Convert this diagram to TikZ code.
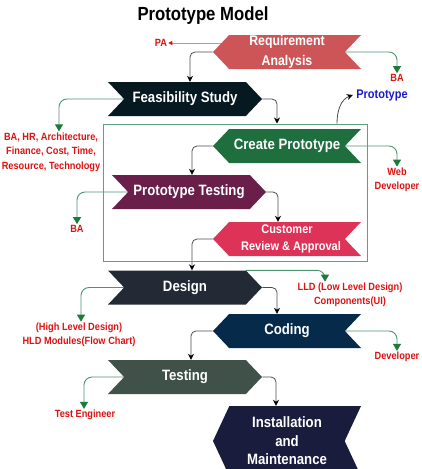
\documentclass[tikz,border=0pt]{standalone}
\usepackage{fontspec}
\setmainfont{Liberation Sans}[FakeStretch=0.88]
\usetikzlibrary{shapes.symbols,arrows.meta,backgrounds,positioning}

\definecolor{reqred}{HTML}{CD5557}
\definecolor{feasink}{HTML}{061820}
\definecolor{protogreen}{HTML}{1E6E3E}
\definecolor{testplum}{HTML}{6A1E4A}
\definecolor{custpink}{HTML}{DE3358}
\definecolor{designslate}{HTML}{232A35}
\definecolor{codenavy}{HTML}{062A4A}
\definecolor{testsage}{HTML}{3F5149}
\definecolor{instnavy}{HTML}{1A1C3D}
\definecolor{framegreen}{HTML}{5EA080}
\definecolor{linegreen}{HTML}{4E9470}
\definecolor{tipgreen}{HTML}{1E7A3A}
\definecolor{labred}{HTML}{DD1111}
\definecolor{protoblue}{HTML}{1A1ACC}

\tikzset{
  chev/.style={signal, draw=none, text=white, inner sep=0pt, align=center,
    minimum width=148pt, minimum height=34pt, signal pointer angle=93,
    font=\fontsize{15}{17}\selectfont\bfseries},
  rchev/.style={chev, signal to=east, signal from=west, minimum width=154pt},
  lchev/.style={chev, signal to=west, signal from=east},
  who/.style={text=labred, inner sep=1pt, align=center,
    font=\fontsize{10.5}{14.5}\selectfont\bfseries},
  flow/.style={draw=black!70, line width=0.8pt, rounded corners=5pt,
    -{Stealth[length=6pt,width=6pt,color=black]}},
  role/.style={draw=linegreen, line width=0.9pt, rounded corners=8pt,
    -{Triangle[length=7pt,width=8pt,color=tipgreen]}},
}

\begin{document}
\begin{tikzpicture}[x=1pt,y=-1pt]
\useasboundingbox (0,0) rectangle (421,469);

\node[font=\fontsize{19}{21}\selectfont\bfseries] (title) at (203,16) {Prototype Model};

% main phases
\node[lchev, fill=reqred, font=\fontsize{14}{20}\selectfont\bfseries] (req) at (287,52) {Requirement\\Analysis};
\node[rchev, fill=feasink] (feas) at (185,99) {Feasibility Study};
\node[draw=framegreen, line width=1pt, minimum width=264pt, minimum height=137pt] (box) at (235,192.5) {};
\node[lchev, fill=protogreen] (create) at (287,146) {Create Prototype};
\node[rchev, fill=testplum] (ptest) at (189,192) {Prototype Testing};
\node[lchev, fill=custpink, font=\fontsize{12.5}{17}\selectfont\bfseries] (review) at (287,239) {Customer\\\hspace*{8pt}Review \& Approval};
\node[rchev, fill=designslate] (design) at (185,287.5) {Design};
\node[lchev, fill=codenavy] (coding) at (287,331) {Coding};
\node[rchev, fill=testsage] (testing) at (185,377) {Testing};
\node[lchev, fill=instnavy, minimum height=70pt, signal pointer angle=130,
  font=\fontsize{15}{18.5}\selectfont\bfseries] (install) at (287,441) {Installation\\and\\Maintenance};

% who does what
\node[who] (pa) at (161,43) {PA};
\node[who] (reqrole) at (397,78) {BA};
\node[text=protoblue, font=\fontsize{12.5}{14}\selectfont\bfseries] (proto) at (382,95) {Prototype};
\node[who] (feasrole) at (51,152) {BA, HR, Architecture,\\Finance, Cost, Time,\\Resource, Technology};
\node[who] (webdev) at (397,180) {Web\\Developer};
\node[who] (testrole) at (77,229) {BA};
\node[who] (lld) at (350,295) {LLD (Low Level Design)\\Components(UI)};
\node[who] (hld) at (79,335) {(High Level Design)\\HLD Modules(Flow Chart)};
\node[who] (dev) at (397,357) {Developer};
\node[who] (tester) at (85,415) {Test Engineer};

\begin{scope}[on background layer]
  \draw[draw=reqred!70, line width=0.8pt, -{Triangle[length=4pt,width=4pt,color=labred]}] (req.center |- pa) -- (pa.east);
  \draw[flow] (req.west) -| ([xshift=5pt]feas.north);
  \draw[flow] (feas.east) -| ([xshift=42pt]box.north);
  \draw[flow] (create.west) -| ([xshift=3pt]ptest.north);
  \draw[flow] (ptest.east) -| ([xshift=-9pt]review.north);
  \draw[flow] (review.west) -| ([xshift=7pt]design.north);
  \draw[flow] (design.east) -| ([xshift=-10pt]coding.north);
  \draw[flow] (coding.west) -| ([xshift=6pt]testing.north);
  \draw[flow] (testing.east) -| ([xshift=-11pt]install.north);
  \draw[flow, rounded corners=0pt] ([xshift=102pt]box.north) to[out=90, in=200] (proto.west);

  \draw[role] (req.east) -| (reqrole.north);
  \draw[role] (feas.west) -| ([xshift=8pt]feasrole.north);
  \draw[role] (create.east) -| (webdev.north);
  \draw[role] (ptest.west) -| (testrole.north);
  \draw[role] (design.north east) -| ([xshift=-25pt]lld.north);
  \draw[role] (design.west) -| ([xshift=2pt]hld.north);
  \draw[role] (coding.east) -| (dev.north);
  \draw[role] (testing.west) -| ([xshift=-1pt]tester.north);
\end{scope}
\end{tikzpicture}
\end{document}
